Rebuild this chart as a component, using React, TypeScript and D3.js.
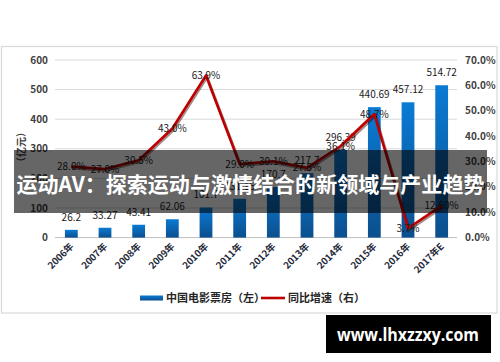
import React from "react";
import * as d3 from "d3";

const categories = ["2006年","2007年","2008年","2009年","2010年","2011年","2012年","2013年","2014年","2015年","2016年","2017年E"];
const boxOffice = [26.2, 33.27, 43.41, 62.06, 101.7, 131.15, 170.7, 217.7, 296.39, 440.69, 457.12, 514.72];
const growth = [28.0, 27.0, 30.5, 43.0, 63.9, 29.0, 30.1, 27.5, 36.1, 48.7, 3.7, 12.6];
const growthLabels = ["28.0%","27.0%","30.5%","43.0%","63.9%","29.0%","30.1%","27.5%","36.1%","48.7%","3.7%","12.60%"];
const leftTicks = [0, 100, 200, 300, 400, 500, 600];
const rightTicks = [0, 10, 20, 30, 40, 50, 60, 70];
const legendLabels = ["中国电影票房（左）", "同比增速（右）"];
const yTitle = "（亿元）";
const banner = "运动AV：探索运动与激情结合的新领域与产业趋势";
const watermark = "www.lhxzzxy.com";

const FONT = "'Noto Sans CJK SC', 'Noto Sans', sans-serif";

export default function App() {
  const x = d3.scaleBand<string>().domain(categories).range([54.5, 458.5]).paddingInner(0.62).paddingOuter(0.31);
  const yL = d3.scaleLinear().domain([0, 600]).range([237.6, 60]);
  const yR = d3.scaleLinear().domain([0, 70]).range([237.6, 60]);
  const cx = (c: string) => (x(c) as number) + x.bandwidth() / 2;
  const line = d3.line<number>().x((_, i) => cx(categories[i])).y((d) => yR(d));
  const path = line(growth) as string;

  return (
    <div style={{ position: "absolute", left: 0, top: 0 }}>
      <svg width={500} height={362} style={{ display: "block", background: "#fff" }} fontFamily={FONT}>
        <defs>
          <linearGradient id="barGrad" x1="0" y1="0" x2="0" y2="1">
            <stop offset="0%" stopColor="#0a7bd4" />
            <stop offset="100%" stopColor="#0c4f8e" />
          </linearGradient>
        </defs>
        <rect x={1.5} y={46.5} width={495.5} height={266.5} fill="#fff" stroke="#d9d9d9" strokeWidth={1.2} />
        {leftTicks.map((t) => (
          <line key={"g" + t} x1={55} x2={457} y1={yL(t)} y2={yL(t)} stroke={t === 0 ? "#bfbfbf" : "#d9d9d9"} strokeWidth={1} />
        ))}
        {leftTicks.map((t) => (
          <text key={"l" + t} x={48} y={yL(t) + 3.5} textAnchor="end" fontSize={10} fontWeight={700} fill="#404040">{t}</text>
        ))}
        {rightTicks.map((t) => (
          <text key={"r" + t} x={465} y={yR(t) + 3.5} textAnchor="start" fontSize={10} fontWeight={700} fill="#404040">{t.toFixed(1) + "%"}</text>
        ))}
        <text transform="translate(25,147) rotate(-90)" textAnchor="middle" fontSize={10} fontWeight={700} fill="#404040">{yTitle}</text>
        {boxOffice.map((v, i) => (
          <rect key={"b" + i} x={x(categories[i])} y={yL(v)} width={x.bandwidth()} height={yL(0) - yL(v)} fill="url(#barGrad)" />
        ))}
        {boxOffice.map((v, i) => (
          <text key={"bl" + i} x={cx(categories[i])} y={yL(v) - 9} textAnchor="middle" fontSize={10} fill="#1a1a1a">{String(v)}</text>
        ))}
        <path d={path} transform="translate(1,1.5)" fill="none" stroke="#3a0000" strokeOpacity={0.45} strokeWidth={3} />
        <path d={path} fill="none" stroke="#c00000" strokeWidth={2.6} strokeLinejoin="round" />
        {growth.map((v, i) => (
          <text key={"gl" + i} x={cx(categories[i])} y={yR(v) + 3.5} textAnchor="middle" fontSize={10} fill="#1a1a1a">{growthLabels[i]}</text>
        ))}
        {categories.map((c) => (
          <text key={"x" + c} transform={`translate(${cx(c) + 3},${247}) rotate(-45)`} textAnchor="end" fontSize={9.5} fontWeight={700} fill="#1f2a3a">{c}</text>
        ))}
        <rect x={140} y={295.5} width={23} height={5} fill="url(#barGrad)" />
        <text x={166} y={302} fontSize={11} fontWeight={700} fill="#262626">{legendLabels[0]}</text>
        <line x1={261} x2={285} y1={298} y2={298} stroke="#c00000" strokeWidth={2.6} />
        <text x={288} y={302} fontSize={11} fontWeight={700} fill="#262626">{legendLabels[1]}</text>
        <rect x={14} y={150} width={473} height={63} fill="#000" fillOpacity={0.6} />
        <text x={250.5} y={191.5} textAnchor="middle" fontSize={21} fontWeight={700} fill="#fff" textLength={468} lengthAdjust="spacingAndGlyphs">{banner}</text>
        <rect x={326} y={315} width={165} height={38} fill="#000" />
        <text x={408} y={341} textAnchor="middle" fontSize={18} fontWeight={700} fill="#fff" fontFamily="'Open Sans', sans-serif" textLength={142} lengthAdjust="spacingAndGlyphs">{watermark}</text>
      </svg>
    </div>
  );
}
